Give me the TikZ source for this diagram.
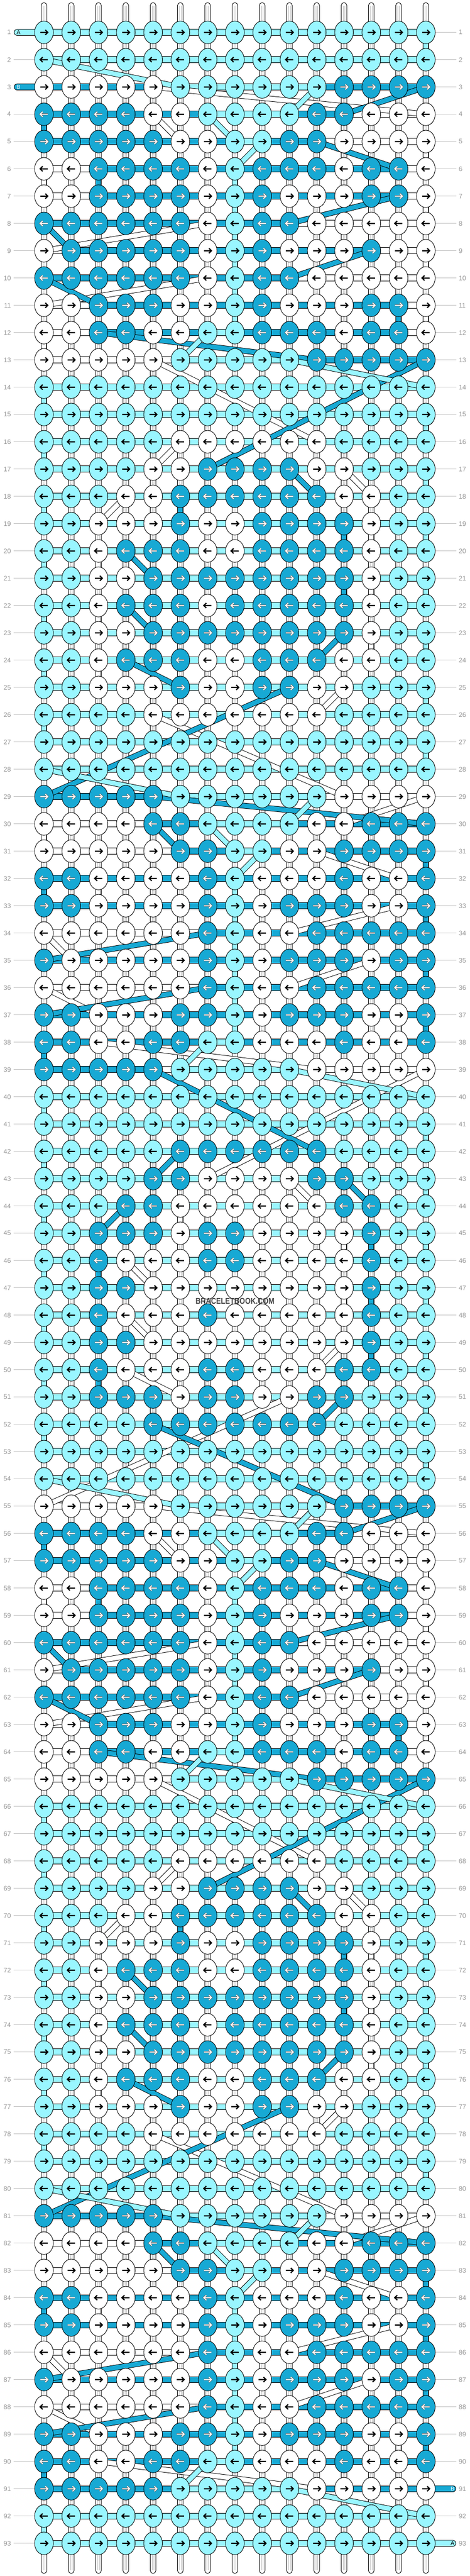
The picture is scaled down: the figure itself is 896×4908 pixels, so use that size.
\documentclass[tikz,border=0pt]{standalone}
\usepackage{fontspec}
\setmainfont{Liberation Sans}
\usepackage{graphicx}
\definecolor{cA}{RGB}{153,246,255}
\definecolor{cB}{RGB}{23,169,212}
\definecolor{numgray}{RGB}{150,150,150}
\definecolor{linegray}{RGB}{192,192,192}
\definecolor{wmgray}{RGB}{68,68,68}
\newcommand\RSdef[2]{\expandafter\def\csname rsrow#1\endcsname{#2}}
\RSdef{1}{LLLLLLLLLLLLLLL}
\RSdef{2}{LLLLLLLLLLLLLLL}
\RSdef{3}{WWWWWLLLLLLDDDD}
\RSdef{4}{DDDDWWLLLLDDWWW}
\RSdef{5}{DDDDDWWLLDDWWWW}
\RSdef{6}{WWDDDDWLDDDWDDW}
\RSdef{7}{WWDDDDWLDWWWDDW}
\RSdef{8}{DDDDDDWLDDWWWWW}
\RSdef{9}{WDDDDDWLDWWWDWW}
\RSdef{10}{DDDDDDWLDDWWWWW}
\RSdef{11}{WWDDDWWLDWWWDDW}
\RSdef{12}{WWDDWWLLDDDWDDW}
\RSdef{13}{WWWWWLLLLLDDDDD}
\RSdef{14}{LLLLLLLLLLLLLLL}
\RSdef{15}{LLLLLLLLLLLLLLL}
\RSdef{16}{LLLLLWWWWWWLLLL}
\RSdef{17}{LLLLWWDDDDWWLLL}
\RSdef{18}{LLLWWDDDDDDWWLL}
\RSdef{19}{LLWWWDWWDDDDWLL}
\RSdef{20}{LLWDDDWWDDDDWLL}
\RSdef{21}{LLWWDDDDDDDDWLL}
\RSdef{22}{LLWDDDWDDDDDWLL}
\RSdef{23}{LLWWDDDDDDDDWLL}
\RSdef{24}{LLWDDDWWDDDWWLL}
\RSdef{25}{LLWWWDWWDDWWLLL}
\RSdef{26}{LLLLWWWWWWWLLLL}
\RSdef{27}{LLLLLLLLLLLLLLL}
\RSdef{28}{LLLLLLLLLLLLLLL}
\RSdef{29}{DDDDDLLLLLLWWWW}
\RSdef{30}{WWWWDDLLLLWWDDD}
\RSdef{31}{WWWWWDDLLWWDDDD}
\RSdef{32}{DDWWWWDLWWWDWWD}
\RSdef{33}{DDWWWWDLWDDDWWD}
\RSdef{34}{WWWWWWDLWWDDDDD}
\RSdef{35}{DWWWWWDLWDDDWDD}
\RSdef{36}{WWWWWWDLWWDDDDD}
\RSdef{37}{DDWWWDDLWDDDWWD}
\RSdef{38}{DDWWDDLLWWWDWWD}
\RSdef{39}{DDDDDLLLLLWWWWW}
\RSdef{40}{LLLLLLLLLLLLLLL}
\RSdef{41}{LLLLLLLLLLLLLLL}
\RSdef{42}{LLLLLDDDDDDLLLL}
\RSdef{43}{LLLLDDWWWWDDLLL}
\RSdef{44}{LLLDDWWWWWWDDLL}
\RSdef{45}{LLDDDWDDWWWWDLL}
\RSdef{46}{LLDWWWDDWWWWDLL}
\RSdef{47}{LLDDWWWWWWWWDLL}
\RSdef{48}{LLDWWWDWWWWWDLL}
\RSdef{49}{LLDDWWWWWWWWDLL}
\RSdef{50}{LLDWWWDDWWWDDLL}
\RSdef{51}{LLDDDWDDWWDDLLL}
\RSdef{52}{LLLLDDDDDDDLLLL}
\def\rsfillL{cA}\def\rsfillD{cB}\def\rsfillW{white}
\def\rscolL{cA}\def\rscolD{cB}\def\rscolW{white}
\tikzset{
  knotshape/.style={draw=black,line width=0.9},
  segshape/.style={draw=black,line width=0.9},
  arrowline/.style={line width=2.2,line join=miter,miter limit=10},
  numstyle/.style={inner sep=0,text=numgray,font=\fontsize{12.5}{12.5}\selectfont},
  lblstyle/.style={inner sep=0,font=\fontsize{10.5}{10.5}\selectfont},
}
\newcommand\RSknot[3]{%
  \pgfmathsetmacro\rskx{83.8+52*#2}%
  \pgfmathsetmacro\rsky{9.7+52*#1}%
  \ifodd#1\relax\def\rsd{1}\else\def\rsd{-1}\fi
  \path[knotshape,fill=\csname rsfill#3\endcsname] (\rskx,\rsky) ellipse [x radius=17.8,y radius=21.6];
  \begin{scope}[shift={(\rskx,\rsky)},xscale=\rsd]
  \if D#3\relax
    \draw[arrowline,line width=3.4,black!60] (-7.3,0) -- (7,0) (2.5,-4.8) -- (7.3,0) -- (2.5,4.8);
    \draw[arrowline,line width=1.8,white] (-7,0) -- (7,0) (2.5,-4.7) -- (7.3,0) -- (2.5,4.7);
  \else
    \draw[arrowline,black] (-7,0) -- (7,0) (2.5,-4.7) -- (7.3,0) -- (2.5,4.7);
  \fi
  \end{scope}}
\newcommand\RSseg[3]{%
  \filldraw[segshape,fill=#3] ({83.8+52*#2},{9.7+52*#1-5.8}) rectangle ({83.8+52*(#2+1)},{9.7+52*#1+5.8});}
\newcommand\RSband[5]{%
  \draw[line width=10.8,black] ({83.8+52*#2},{9.7+52*#1}) -- ({83.8+52*#4},{9.7+52*#3});
  \draw[line width=8.9,\csname rscol#5\endcsname] ({83.8+52*#2},{9.7+52*#1}) -- ({83.8+52*#4},{9.7+52*#3});}
\ExplSyntaxOn
\int_step_inline:nnn {53} {93}
  { \cs_set_eq:cc { rsrow#1 } { rsrow \int_eval:n { #1 - 52 } } }
\prop_new:N \g_rs_seg_prop
\tl_new:N \g_rs_bandL_tl
\tl_new:N \g_rs_bandD_tl
\tl_new:N \g_rs_bandW_tl
\int_new:N \g_rs_Lr_int
\int_new:N \g_rs_Lc_int
\int_new:N \g_rs_Dr_int
\int_new:N \g_rs_Dc_int
\int_new:N \g_rs_Wr_int
\int_new:N \g_rs_Wc_int
\int_gset:Nn \g_rs_Lr_int {1}
\int_gset:Nn \g_rs_Lc_int {-1}
\int_gset:Nn \g_rs_Dr_int {3}
\int_gset:Nn \g_rs_Dc_int {-1}
\cs_new_protected:Npn \rs_mark:nnnn #1#2#3#4
  {
    \str_if_eq:nnF {#4} {W}
      {
        \int_step_inline:nnn { \int_min:nn {#2} {#3} } { \int_max:nn {#2} {#3} - 1 }
          { \prop_gput:Nnn \g_rs_seg_prop { #1 , ##1 , #4 } { 1 } }
      }
  }
\cs_new_protected:Npn \rs_visit:nnn #1#2#3
  {
    \int_compare:nNnT { \int_use:c { g_rs_#3r_int } } > { 0 }
      {
        \int_compare:nNnTF { \int_use:c { g_rs_#3r_int } } = { #1 }
          { \rs_mark:nnnn {#1} { \int_use:c { g_rs_#3c_int } } {#2} {#3} }
          {
            \tl_gput_right:cx { g_rs_band#3_tl }
              {
                \exp_not:N \RSband
                  { \int_use:c { g_rs_#3r_int } } { \int_use:c { g_rs_#3c_int } }
                  {#1} {#2} {#3}
              }
          }
      }
    \int_gset:cn { g_rs_#3r_int } {#1}
    \int_gset:cn { g_rs_#3c_int } {#2}
  }
\cs_generate_variant:Nn \rs_visit:nnn { nne }
\int_step_inline:nnn {1} {93}
  {
    \int_if_odd:nTF {#1}
      {
        \int_step_inline:nnn {0} {14}
          { \rs_visit:nne {#1} {##1} { \tl_item:cn { rsrow#1 } { ##1 + 1 } } }
      }
      {
        \int_step_inline:nnnn {14} {-1} {0}
          { \rs_visit:nne {#1} {##1} { \tl_item:cn { rsrow#1 } { ##1 + 1 } } }
      }
  }
\rs_visit:nnn {91} {15} {D}
\rs_visit:nnn {93} {15} {L}
\cs_new_protected:Npn \rs_draw_segments:
  {
    \int_step_inline:nnn {1} {93}
      {
        \int_step_inline:nnn {0} {13}
          {
            \prop_if_in:NnTF \g_rs_seg_prop { ##1 , ####1 , L }
              { \RSseg {##1} {####1} {cA} }
              {
                \prop_if_in:NnTF \g_rs_seg_prop { ##1 , ####1 , D }
                  { \RSseg {##1} {####1} {cB} }
                  { \RSseg {##1} {####1} {white} }
              }
          }
      }
  }
\cs_new_protected:Npn \rs_knot:nnn #1#2#3 { \RSknot {#1} {#2} {#3} }
\cs_generate_variant:Nn \rs_knot:nnn { nne }
\cs_new_protected:Npn \rs_draw_knots:
  {
    \int_step_inline:nnn {1} {93}
      {
        \int_step_inline:nnn {0} {14}
          { \rs_knot:nne {##1} {####1} { \tl_item:cn { rsrow##1 } { ####1 + 1 } } }
      }
  }
\cs_new_protected:Npn \rs_draw_bands:
  { \tl_use:N \g_rs_bandW_tl \tl_use:N \g_rs_bandD_tl \tl_use:N \g_rs_bandL_tl }
\cs_set_eq:NN \RSdrawSegments \rs_draw_segments:
\cs_set_eq:NN \RSdrawKnots \rs_draw_knots:
\cs_set_eq:NN \RSdrawBands \rs_draw_bands:
\ExplSyntaxOff
\begin{document}
\begin{tikzpicture}[x=1pt,y=-1pt]
\useasboundingbox (0,0) rectangle (896,4908);
\fill[white] (0,0) rectangle (896,4908);
% base strings
\foreach \c in {0,...,14}{
  \filldraw[segshape,fill=white,rounded corners=5.3] ({83.8+52*\c-5.3},5) rectangle ({83.8+52*\c+5.3},4903);
  \draw[linegray,line width=0.8] ({83.8+52*\c-1.6},11) -- ({83.8+52*\c-1.6},4897);
  \draw[linegray,line width=0.8] ({83.8+52*\c+1.6},11) -- ({83.8+52*\c+1.6},4897);
}
% row numbers and guide lines
\foreach \r in {1,...,93}{
  \pgfmathsetmacro\yy{9.7+52*\r}
  \node[numstyle,anchor=east] (nl\r) at (21,\yy) {\r};
  \node[numstyle,anchor=west] (nr\r) at (874.5,\yy) {\r};
  \ifnum\r=1 \else\ifnum\r=3 \else \draw[linegray,line width=1] (26,\yy) -- (67,\yy); \fi\fi
  \ifnum\r=91 \else\ifnum\r=93 \else \draw[linegray,line width=1] (829,\yy) -- (870,\yy); \fi\fi
}
% working string labels
\filldraw[segshape,fill=cA,rounded corners=5.8] (27,55.9) rectangle (84,67.5);
\node[lblstyle,text=black] (labA1) at (35.5,61.7) {A};
\filldraw[segshape,fill=cB,rounded corners=5.8] (27,159.9) rectangle (84,171.5);
\node[lblstyle,text=white] (labB1) at (35.5,165.7) {B};
\filldraw[segshape,fill=cB,rounded corners=5.8] (811,4735.9) rectangle (869,4747.5);
\node[lblstyle,text=white] (labB2) at (862.5,4741.7) {B};
\filldraw[segshape,fill=cA,rounded corners=5.8] (811,4839.9) rectangle (869,4851.5);
\node[lblstyle,text=black] (labA2) at (862.5,4845.7) {A};
% horizontal segments
\RSdrawSegments
% carried strings
\RSdrawBands
% knots
\RSdrawKnots
% watermark
\node[inner sep=0,text=wmgray,font=\bfseries\fontsize{16}{16}\selectfont] (wm) at (448,2479) {\scalebox{0.85}[1]{BRACELETBOOK.COM}};
\end{tikzpicture}
\end{document}
